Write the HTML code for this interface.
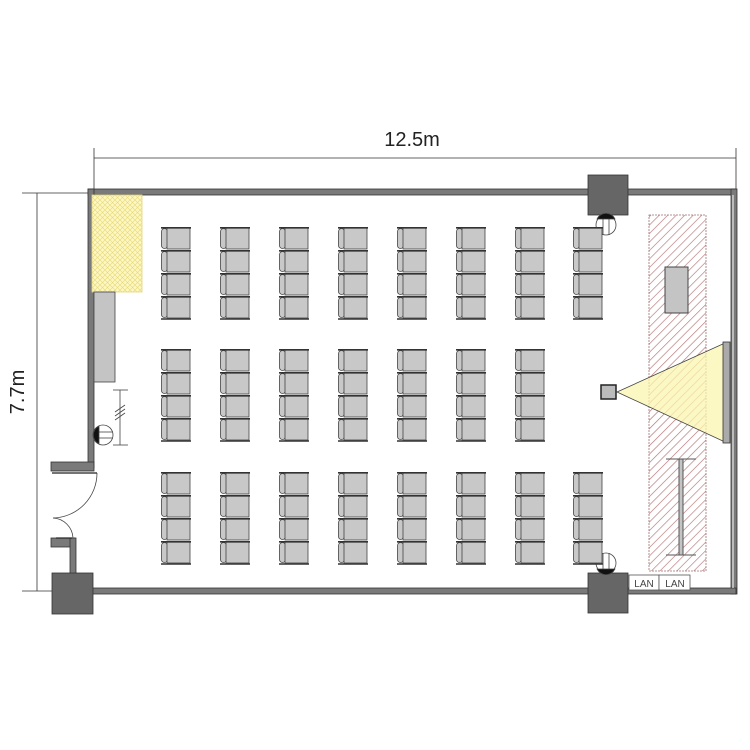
<!DOCTYPE html>
<html><head><meta charset="utf-8"><style>html,body{margin:0;padding:0;background:#fff}svg{display:block}</style></head>
<body>
<svg width="750" height="750" viewBox="0 0 750 750" xmlns="http://www.w3.org/2000/svg" font-family="Liberation Sans, sans-serif">
<defs>
<pattern id="yh" width="5" height="5" patternUnits="userSpaceOnUse"><rect width="5" height="5" fill="#fdf7c0"/><path d="M0 0L5 5M5 0L0 5" stroke="#e6d77a" stroke-width="0.6"/></pattern>
<pattern id="rh" width="6" height="6" patternUnits="userSpaceOnUse" patternTransform="rotate(45)"><rect width="6" height="6" fill="#fff"/><line x1="0" y1="0" x2="0" y2="6" stroke="#b47474" stroke-width="1.3"/></pattern>
<g id="ch">
<rect x="0.5" y="1.5" width="6" height="20" rx="3" fill="#c8c8c8" stroke="#444" stroke-width="0.8"/>
<rect x="6" y="1" width="23" height="21" fill="#c8c8c8" stroke="#444" stroke-width="0.8"/>
<line x1="0" y1="0.8" x2="30" y2="0.8" stroke="#333" stroke-width="1.6"/>
</g>
<g id="col4"><use href="#ch" y="0"/><use href="#ch" y="23"/><use href="#ch" y="46"/><use href="#ch" y="69"/><line x1="0" y1="92" x2="30" y2="92" stroke="#333" stroke-width="1.6"/></g>
</defs>

<line x1="94" y1="158" x2="736" y2="158" stroke="#333" stroke-width="0.8"/>
<line x1="94" y1="148" x2="94" y2="190" stroke="#333" stroke-width="0.8"/>
<line x1="736" y1="148" x2="736" y2="190" stroke="#333" stroke-width="0.8"/>
<text x="412" y="146" font-size="20" text-anchor="middle" fill="#222">12.5m</text>
<line x1="37" y1="193" x2="37" y2="591" stroke="#333" stroke-width="0.8"/>
<line x1="22" y1="193" x2="92" y2="193" stroke="#333" stroke-width="0.8"/>
<line x1="22" y1="591" x2="92" y2="591" stroke="#333" stroke-width="0.8"/>
<text transform="translate(24,392) rotate(-90)" font-size="20" text-anchor="middle" fill="#222">7.7m</text>

<g fill="#7a7a7a" stroke="#333" stroke-width="0.8">
<rect x="88" y="189" width="648" height="6"/>
<rect x="731" y="189" width="6" height="405"/>
<rect x="88" y="588" width="648" height="6"/>
<rect x="88" y="189" width="6" height="279"/>
<rect x="51" y="462" width="43" height="9"/>
<rect x="51" y="538" width="24" height="9"/>
<rect x="70" y="538" width="6" height="40"/>
</g>
<line x1="733" y1="195" x2="733" y2="588" stroke="#fff" stroke-width="1"/>
<g fill="#666" stroke="#333" stroke-width="0.8">
<rect x="588" y="175" width="40" height="40"/>
<rect x="588" y="573" width="40" height="40"/>
<rect x="52" y="573" width="41" height="41"/>
</g>
<path d="M97 473 A45 45 0 0 1 53 518" fill="none" stroke="#444" stroke-width="0.8"/>
<path d="M53 518 A21 21 0 0 1 73 538" fill="none" stroke="#444" stroke-width="0.8"/>
<line x1="52" y1="473" x2="97" y2="473" stroke="#222" stroke-width="1.2"/>
<line x1="56" y1="538" x2="72" y2="538" stroke="#222" stroke-width="1.2"/>

<rect x="92" y="195" width="50" height="97" fill="url(#yh)" stroke="#e3d57a" stroke-width="0.8"/>
<rect x="94" y="292" width="21" height="90" fill="#c4c4c4" stroke="#444" stroke-width="0.8"/>
<g stroke="#444" stroke-width="0.8">
<line x1="113" y1="390" x2="128" y2="390"/><line x1="120" y1="390" x2="120" y2="445"/><line x1="113" y1="445" x2="128" y2="445"/>
<line x1="115" y1="412" x2="125" y2="405"/><line x1="115" y1="416" x2="125" y2="409"/><line x1="115" y1="420" x2="125" y2="413"/>
</g>
<g stroke="#444" stroke-width="0.8">
<circle cx="103" cy="435" r="10" fill="#fff"/><path d="M99 426 A10 10 0 0 0 99 444 Z" fill="#111"/>
<line x1="99" y1="432" x2="113" y2="432"/><line x1="99" y1="438" x2="113" y2="438"/>
<circle cx="606" cy="225" r="10" fill="#fff"/><path d="M597 219 A10 10 0 0 1 615 219 Z" fill="#111"/>
<line x1="603" y1="219" x2="603" y2="235"/><line x1="609" y1="219" x2="609" y2="235"/>
<circle cx="606" cy="563" r="10" fill="#fff"/><path d="M597 569 A10 10 0 0 0 615 569 Z" fill="#111"/>
<line x1="603" y1="553" x2="603" y2="569"/><line x1="609" y1="553" x2="609" y2="569"/>
</g>

<g>
<use href="#col4" x="161" y="227"/><use href="#col4" x="220" y="227"/><use href="#col4" x="279" y="227"/><use href="#col4" x="338" y="227"/><use href="#col4" x="397" y="227"/><use href="#col4" x="456" y="227"/><use href="#col4" x="515" y="227"/><use href="#col4" x="573" y="227"/>
<use href="#col4" x="161" y="349"/><use href="#col4" x="220" y="349"/><use href="#col4" x="279" y="349"/><use href="#col4" x="338" y="349"/><use href="#col4" x="397" y="349"/><use href="#col4" x="456" y="349"/><use href="#col4" x="515" y="349"/>
<use href="#col4" x="161" y="472"/><use href="#col4" x="220" y="472"/><use href="#col4" x="279" y="472"/><use href="#col4" x="338" y="472"/><use href="#col4" x="397" y="472"/><use href="#col4" x="456" y="472"/><use href="#col4" x="515" y="472"/><use href="#col4" x="573" y="472"/>
</g>

<rect x="649" y="215" width="57" height="356" fill="url(#rh)" stroke="#a07070" stroke-width="0.8" stroke-dasharray="2,1"/>
<rect x="665" y="267" width="23" height="46" fill="#c4c4c4" stroke="#444" stroke-width="1"/>
<g stroke="#555" stroke-width="1">
<line x1="666" y1="459" x2="696" y2="459"/><line x1="666" y1="555" x2="696" y2="555"/>
<rect x="679" y="459" width="4" height="96" fill="#c4c4c4"/>
</g>
<polygon points="617,392 725,343 725,442" fill="#fbf5b0" fill-opacity="0.75" stroke="#444" stroke-width="0.8"/>
<rect x="723" y="342" width="7" height="101" fill="#aaa" stroke="#333" stroke-width="0.8"/>
<rect x="601" y="385" width="15" height="14" fill="#bbb" stroke="#222" stroke-width="1.5"/>
<g fill="#fff" stroke="#555" stroke-width="0.8">
<rect x="629" y="575" width="30" height="15"/><rect x="659" y="575" width="31" height="15"/>
</g>
<text x="644" y="587" font-size="10" text-anchor="middle" fill="#444">LAN</text>
<text x="675" y="587" font-size="10" text-anchor="middle" fill="#444">LAN</text>
</svg>
</body></html>
